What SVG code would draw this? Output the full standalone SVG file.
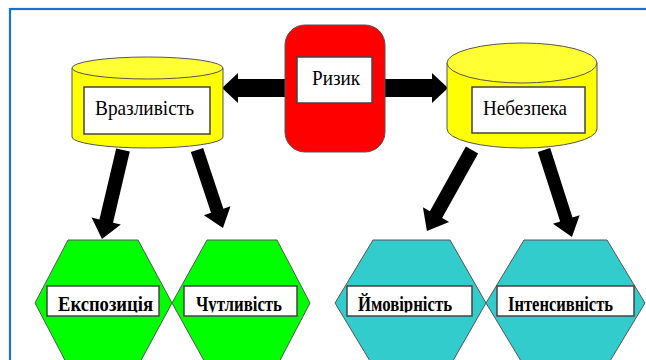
<svg xmlns="http://www.w3.org/2000/svg" width="646" height="360" viewBox="0 0 646 360">
<style>
.cyl{fill:#ffff00;stroke:#555;stroke-width:1}
.cyltop{fill:#ffff33;stroke:#555;stroke-width:1}
.box{fill:#fff;stroke:#444;stroke-width:1.5}
.t1{font-family:"Liberation Serif","Times New Roman",serif;font-size:22px;fill:#000}
.t2{font-family:"Liberation Serif","Times New Roman",serif;font-size:20px;font-weight:bold;fill:#000}
.hexg{fill:#00ff00;stroke:#555;stroke-width:1}
.hexc{fill:#33cccc;stroke:#555;stroke-width:1}
.arr{fill:#000}
</style>
<defs>
<clipPath id="c1"><rect x="47" y="286" width="112" height="26.5"/></clipPath>
<clipPath id="c2"><rect x="184" y="286" width="113" height="26.5"/></clipPath>
<clipPath id="c3"><rect x="347" y="286" width="125" height="26.5"/></clipPath>
<clipPath id="c4"><rect x="497" y="286" width="137" height="26.5"/></clipPath>
</defs>
<rect width="646" height="360" fill="#fff"/>
<rect x="10" y="9" width="700" height="420" fill="none" stroke="#1a73c9" stroke-width="2.2"/>

<g id="connectors">
<path class="arr" d="M285,79 L238,79 L238,73 L222,88 L238,103 L238,97 L285,97 Z"/>
<path class="arr" d="M385,79 L432,79 L432,73 L448,88 L432,103 L432,97 L385,97 Z"/>
<path class="arr" transform="translate(123,150) rotate(103.3)" d="M0,-7 L73,-7 L73,-15 L91.4,0 L73,15 L73,7 L0,7 Z"/>
<path class="arr" transform="translate(197,150) rotate(71.6)" d="M0,-6.5 L64,-6.5 L64,-14 L82.2,0 L64,14 L64,6.5 L0,6.5 Z"/>
<path class="arr" transform="translate(472,150) rotate(119.1)" d="M0,-7 L74,-7 L74,-15 L92.7,0 L74,15 L74,7 L0,7 Z"/>
<path class="arr" transform="translate(544,150) rotate(72.2)" d="M0,-6.5 L73,-6.5 L73,-14 L91.4,0 L73,14 L73,6.5 L0,6.5 Z"/>
</g>

<g id="rizyk">
<rect x="285" y="25" width="100" height="127" rx="20" ry="20" fill="#ff0000" stroke="#555" stroke-width="1"/>
<rect class="box" x="297" y="57" width="75" height="46"/>
<text class="t1" x="336" y="85" text-anchor="middle" textLength="48" lengthAdjust="spacingAndGlyphs">Ризик</text>
</g>

<g id="vrazlyvist">
<path class="cyl" d="M72,68 L72,137 A75.5,11 0 0 0 223,137 L223,68 Z"/>
<ellipse class="cyltop" cx="147.5" cy="68" rx="75.5" ry="11"/>
<rect class="box" x="84" y="87" width="126" height="47"/>
<text class="t1" x="144.5" y="115" text-anchor="middle" textLength="99" lengthAdjust="spacingAndGlyphs">Вразливість</text>
</g>

<g id="nebezpeka">
<path class="cyl" d="M447,63 L447,129 A75,19 0 0 0 597,129 L597,63 Z"/>
<ellipse class="cyltop" cx="522" cy="63" rx="75" ry="20"/>
<rect class="box" x="472" y="87" width="113" height="46"/>
<text class="t1" x="525" y="115" text-anchor="middle" textLength="84" lengthAdjust="spacingAndGlyphs">Небезпека</text>
</g>

<g id="ekspozytsiia">
<polygon class="hexg" points="35,303 68,240 138,240 172,303 138,366 68,366"/>
<rect class="box" x="47" y="286" width="112" height="30"/>
<text class="t2" x="58" y="311" textLength="95" lengthAdjust="spacingAndGlyphs" clip-path="url(#c1)">Експозиція</text>
</g>

<g id="chutlyvist">
<polygon class="hexg" points="172,303 207,240 277,240 310,303 277,366 207,366"/>
<rect class="box" x="184" y="286" width="113" height="30"/>
<text class="t2" x="196" y="311" textLength="86" lengthAdjust="spacingAndGlyphs" clip-path="url(#c2)">Чутливість</text>
</g>

<g id="imovirnist">
<polygon class="hexc" points="335,303 373,240 450,240 486,303 450,366 373,366"/>
<rect class="box" x="347" y="286" width="125" height="30"/>
<text class="t2" x="358" y="311" textLength="94" lengthAdjust="spacingAndGlyphs" clip-path="url(#c3)">Ймовірність</text>
</g>

<g id="intensyvnist">
<polygon class="hexc" points="486,303 524,240 607,240 645,303 607,366 524,366"/>
<rect class="box" x="497" y="286" width="137" height="30"/>
<text class="t2" x="508" y="311" textLength="105" lengthAdjust="spacingAndGlyphs" clip-path="url(#c4)">Інтенсивність</text>
</g>
</svg>
